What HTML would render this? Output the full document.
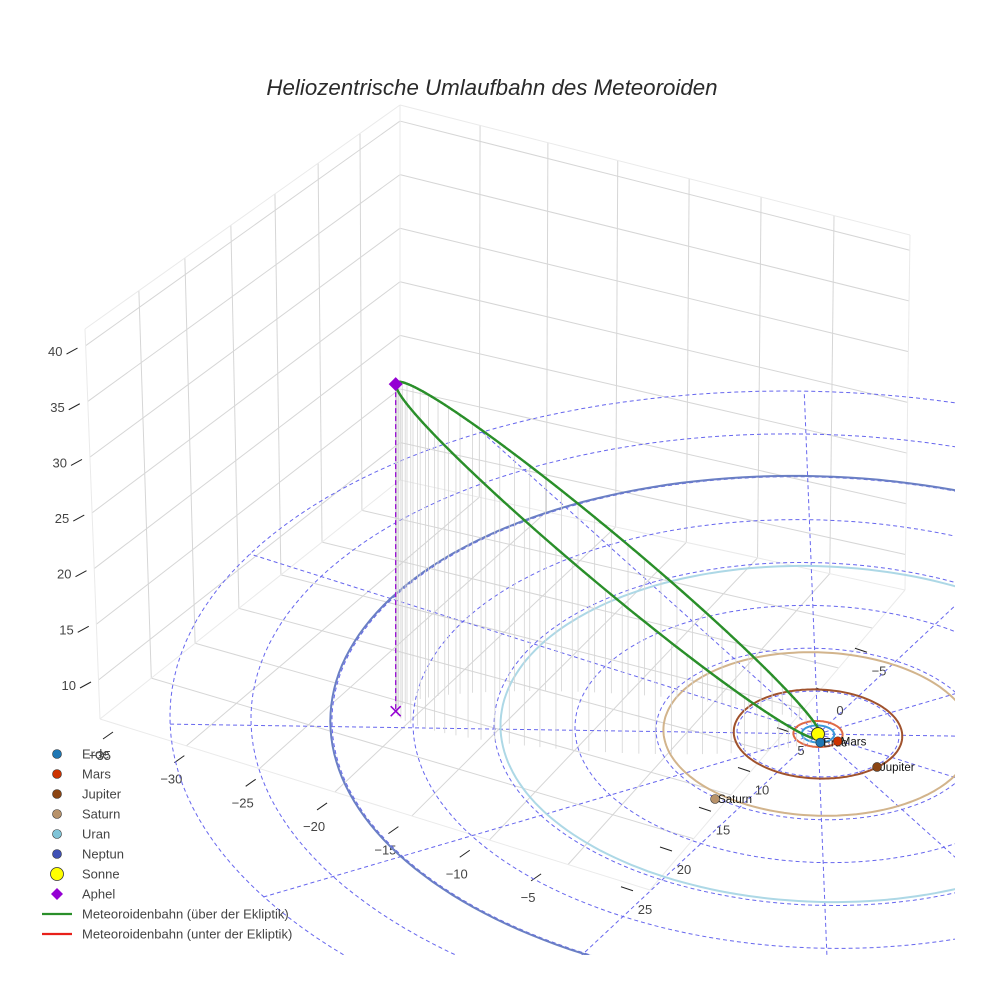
<!DOCTYPE html>
<html><head><meta charset="utf-8">
<style>
html,body{margin:0;background:#fff;overflow:hidden;width:984px;height:984px}
svg{display:block;font-family:"Liberation Sans",sans-serif;overflow:hidden}
</style></head>
<body>
<svg id="chart" width="984" height="984" viewBox="0 0 984 984" xmlns="http://www.w3.org/2000/svg">
<rect width="984" height="984" fill="#fff"/>
<defs><clipPath id="clipArea"><rect x="0" y="0" width="955" height="955"/></clipPath></defs>
<text x="492" y="95" text-anchor="middle" font-size="22.3" font-style="italic" fill="#2a2a2a">Heliozentrische Umlaufbahn des Meteoroiden</text>
<g id="box"></g>
<g id="ticks"></g>
<g id="scene" clip-path="url(#clipArea)"></g>
<g id="legend"></g>
</svg>
<script>
// ---- data ----
const planetNames = ["Erde","Mars","Jupiter","Saturn","Uran","Neptun"];
const orbitRadii = [1.0, 1.52, 5.2, 9.54, 19.6, 30.1];
const planetX = [0.6, 1.45, 4.96, -1.76, 15, 25];
const planetY = [0.8, 0.1, 1.46, 9.99, -12, -17];
const orbitColors = ["#3a9ad9","#e06a45","#a0522d","#d2b48c","#add8e6","#6a7fc4"];
const markerColors = ["#1f77b4","#cc3300","#8b4513","#b8926a","#7fc4d8","#3f51b5"];
const gridRadii = [5,10,15,20,25,30,35,40];
const gridAngles = [0,30,60,90,120,150,180,210,240,270,300,330];
const aphelXYZ = [-23.5, 11.36, 30];
const perihelionDist = [0.3];
const xTicks = [-35,-30,-25,-20,-15,-10,-5];
const yTicks = [-5,0,5,10,15,20,25];
const zTicks = [10,15,20,25,30,35,40];

const NS="http://www.w3.org/2000/svg";
function mk(tag, attrs, parent){const e=document.createElementNS(NS,tag);for(const k in attrs)e.setAttribute(k,attrs[k]);parent.appendChild(e);return e;}
const O=[818,734], EX=[14.2,4.5], EY=[-7.8,7.3], EZ=[0,-10.9];
function proj(X,Y,Z){return [O[0]+X*EX[0]+Y*EY[0]+Z*EZ[0], O[1]+X*EX[1]+Y*EY[1]+Z*EZ[1]];}

// ---- box grid ----
const box=document.getElementById('box');
function bil(q,u,v){
  const a=q[0],b=q[1],c=q[2],d=q[3];
  return [a[0]*(1-u)*(1-v)+b[0]*u*(1-v)+c[0]*(1-u)*v+d[0]*u*v, a[1]*(1-u)*(1-v)+b[1]*u*(1-v)+c[1]*(1-u)*v+d[1]*u*v];}
function gline(p,q,col,w){const l=mk('line',{x1:p[0],y1:p[1],x2:q[0],y2:q[1],stroke:col,'stroke-width':w},box);
  }
const zmin=6.5,zmax=41.5;
const yFr=[0.127,0.26,0.397,0.537,0.683,0.829];
const xFr=[0.157,0.29,0.427,0.567,0.708,0.851];
const LW=[[400,105],[85,329],[400,480],[100,719]];
const RW=[[400,105],[910,235],[400,480],[905,590]];
const FL=[[400,480],[100,719],[905,590],[650,890]];
yFr.forEach(f=>gline(bil(LW,f,0),bil(LW,f,1),'#d6d6d6',1));
xFr.forEach(f=>gline(bil(RW,f,0),bil(RW,f,1),'#d6d6d6',1));
zTicks.forEach(z=>{const v=(zmax-z)/(zmax-zmin);gline(bil(LW,0,v),bil(LW,1,v),'#d6d6d6',1);gline(bil(RW,0,v),bil(RW,1,v),'#d6d6d6',1);});
yFr.forEach(f=>gline(bil(FL,f,0),bil(FL,f,1),'#d6d6d6',1));
xFr.forEach(f=>gline(bil(FL,0,f),bil(FL,1,f),'#d6d6d6',1));
[[LW[0],LW[1]],[LW[1],LW[3]],[LW[0],LW[2]],[LW[2],LW[3]],[RW[0],RW[1]],[RW[1],RW[3]],[RW[2],RW[3]],[FL[1],FL[3]],[FL[2],FL[3]]].forEach(e=>gline(e[0],e[1],'#eaeaea',1));

// ---- ticks ----
const tk=document.getElementById('ticks');
function ttext(x,y,s,anchor){const t=mk('text',{x:x,y:y,'font-size':13,fill:'#444','text-anchor':anchor},tk);t.textContent=s.replace('-','\u2212');
  }
function tline(x1,y1,x2,y2){const l=mk('line',{x1,y1,x2,y2,stroke:'#222','stroke-width':1},tk);
  }
xTicks.forEach(t=>{const x=100+(t+35)*14.27,y=760+(t+35)*4.73;ttext(x,y,String(t),'middle');tline(x+3,y-21,x+13,y-28);});
yTicks.forEach(t=>{const x=840-t*7.8,y=715+t*7.95;ttext(x,y,String(t),'middle');tline(x-24,y-27,x-12,y-23);});
zTicks.forEach(z=>{const y=690-(z-10)*11.13, x=76+(z-10)*(-0.45);ttext(x,y,String(z),'end');tline(x+4,y-2,x+15,y-8);});

// ---- scene ----
const sc=document.getElementById('scene');
function polyPts(pts){return pts.map(p=>p[0].toFixed(1)+','+p[1].toFixed(1)).join(' ');}
gridRadii.forEach(r=>{const pts=[];for(let i=0;i<=180;i++){const a=i/180*2*Math.PI;pts.push(proj(r*Math.cos(a),r*Math.sin(a),0));}
  const p=mk('polyline',{points:polyPts(pts),fill:'none',stroke:'#6666ee','stroke-width':1,'stroke-dasharray':'4,3'},sc);
  });
gridAngles.forEach(g=>{const a=g*Math.PI/180;const p0=proj(0,0,0),p1=proj(40*Math.cos(a),40*Math.sin(a),0);
  const l=mk('line',{x1:p0[0],y1:p0[1],x2:p1[0],y2:p1[1],stroke:'#6666ee','stroke-width':1,'stroke-dasharray':'4,3'},sc);
  });
orbitRadii.forEach((r,i)=>{const pts=[];for(let k=0;k<=200;k++){const a=k/200*2*Math.PI;pts.push(proj(r*Math.cos(a),r*Math.sin(a),0));}
  const p=mk('polyline',{points:polyPts(pts),fill:'none',stroke:orbitColors[i],'stroke-width':2},sc);
  });
// meteoroid orbit
const A=aphelXYZ, Q=Math.hypot(A[0],A[1],A[2]), q=perihelionDist[0];
const P=A.map(c=>-c/Q*q);
const C=A.map((c,i)=>(c+P[i])/2), U=A.map((c,i)=>(c-P[i])/2);
const bsemi=Math.sqrt(q*Q);
let h=[A[1],-A[0],0];const hn=Math.hypot(h[0],h[1]);h=h.map(c=>c/hn);
const orb=[];for(let k=0;k<=240;k++){const E=k/240*2*Math.PI;orb.push(C.map((c,i)=>c+U[i]*Math.cos(E)+h[i]*bsemi*Math.sin(E)));}
orb.forEach((p,k)=>{if(k%3||p[2]<=0)return;const a=proj(p[0],p[1],p[2]),b=proj(p[0],p[1],0);
  const l=mk('line',{x1:a[0],y1:a[1],x2:b[0],y2:b[1],stroke:'#d4d4d4','stroke-width':0.8},sc);
  });
for(let k=0;k<orb.length-1;k++){const p=orb[k],n=orb[k+1];const a=proj(...p),b=proj(...n);
  const above=(p[2]+n[2])/2>=0;
  const l=mk('line',{x1:a[0],y1:a[1],x2:b[0],y2:b[1],stroke:above?'#2a8f2a':'#e8201a','stroke-width':2.4,'stroke-linecap':'round'},sc);
  }
const ap=proj(...A), ag=proj(A[0],A[1],0);
let e=mk('line',{x1:ap[0],y1:ap[1],x2:ag[0],y2:ag[1],stroke:'#9400d3','stroke-width':1.2,'stroke-dasharray':'5,3'},sc);

e=mk('path',{d:`M${ag[0]-5},${ag[1]-5}L${ag[0]+5},${ag[1]+5}M${ag[0]+5},${ag[1]-5}L${ag[0]-5},${ag[1]+5}`,stroke:'#9400d3','stroke-width':1.5},sc);

e=mk('path',{d:`M${ap[0]},${ap[1]-7}L${ap[0]+7},${ap[1]}L${ap[0]},${ap[1]+7}L${ap[0]-7},${ap[1]}Z`,fill:'#9400d3'},sc);

const s0=proj(0,0,0);
e=mk('circle',{cx:s0[0],cy:s0[1],r:6.5,fill:'#ffff00',stroke:'#333','stroke-width':1},sc);

planetNames.forEach((n,i)=>{const p=proj(planetX[i],planetY[i],0);
  const c=mk('circle',{cx:p[0],cy:p[1],r:4.5,fill:markerColors[i],stroke:'#333','stroke-width':0.6},sc);
  
  const t=mk('text',{x:p[0]+3,y:p[1]+4,'font-size':11.5,fill:'#111'},sc);t.textContent=n;
  });

// ---- legend ----
const lg=document.getElementById('legend');
const legendLabels=["Erde","Mars","Jupiter","Saturn","Uran","Neptun","Sonne","Aphel","Meteoroidenbahn (über der Ekliptik)","Meteoroidenbahn (unter der Ekliptik)"];
legendLabels.forEach((lab,i)=>{const y=754+i*20;
  const g=mk('g',{},lg);
  if(i<6){mk('circle',{cx:57,cy:y,r:4.5,fill:markerColors[i],stroke:'#333','stroke-width':0.6},g);}
  else if(i==6){mk('circle',{cx:57,cy:y,r:6.5,fill:'#ffff00',stroke:'#333','stroke-width':0.8},g);}
  else if(i==7){mk('path',{d:`M57,${y-6}L63,${y}L57,${y+6}L51,${y}Z`,fill:'#9400d3'},g);}
  else {mk('line',{x1:42,y1:y,x2:72,y2:y,stroke:i==8?'#2a8f2a':'#e8201a','stroke-width':2.2},g);}
  const t=mk('text',{x:82,y:y+4.5,'font-size':13,fill:'#444'},g);t.textContent=lab;});
</script>
</body></html>
